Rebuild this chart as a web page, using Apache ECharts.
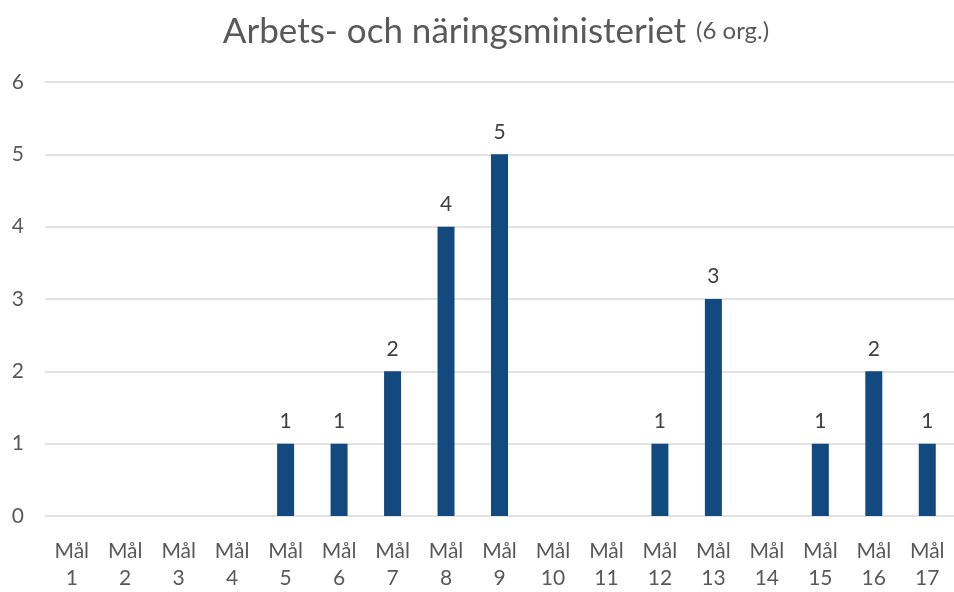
<!DOCTYPE html>
<html>
<head>
<meta charset="utf-8">
<script src="https://cdn.jsdelivr.net/npm/echarts@6/dist/echarts.min.js"></script>
<style>
html, body { margin: 0; padding: 0; background: #fff; }
#chart { width: 954px; height: 592px; }
</style>
</head>
<body>
<div id="chart"></div>
<script>
var categories = ['Mål\n1', 'Mål\n2', 'Mål\n3', 'Mål\n4', 'Mål\n5', 'Mål\n6', 'Mål\n7', 'Mål\n8', 'Mål\n9',
	'Mål\n10', 'Mål\n11', 'Mål\n12', 'Mål\n13', 'Mål\n14', 'Mål\n15', 'Mål\n16', 'Mål\n17'];
var values = [0, 0, 0, 0, 1, 1, 2, 4, 5, 0, 0, 1, 3, 0, 1, 2, 1];
var yTicks = [0, 1, 2, 3, 4, 5, 6];

var chart = echarts.init(document.getElementById('chart'));
var option = {
	textStyle: { fontFamily: 'Lato, "Open Sans", sans-serif' },
	title: {
		text: '{main|Arbets- och näringsministeriet}{gap|}{small|(6 org.)}',
		left: 491,
		top: 9,
		textAlign: 'center',
		textStyle: {
			fontWeight: 'normal',
			rich: {
				main: { fontSize: 35, color: '#595959', fontWeight: 'normal', fontFamily: 'Lato, sans-serif' },
				gap: { width: 10 },
				small: { fontSize: 24, color: '#595959', fontWeight: 'normal', fontFamily: 'Lato, sans-serif' }
			}
		}
	},
	grid: { left: 45, top: 82, width: 911, bottom: 73, containLabel: false },
	xAxis: {
		type: 'category',
		data: categories,
		axisTick: { show: false },
		axisLine: { show: false },
		axisLabel: {
			color: '#595959',
			fontSize: 21,
			lineHeight: 27,
			margin: 22,
			interval: 0
		}
	},
	yAxis: {
		type: 'value',
		min: yTicks[0],
		max: yTicks[yTicks.length - 1],
		interval: 1,
		axisTick: { show: false },
		axisLine: { show: false },
		axisLabel: { color: '#595959', fontSize: 21, margin: 21 },
		splitLine: { lineStyle: { color: '#d9d9d9', width: 1.5 } }
	},
	series: [{
		type: 'bar',
		data: values,
		barWidth: 17,
		itemStyle: { color: '#124a80' },
		label: {
			show: true,
			position: 'top',
			distance: 12,
			color: '#404040',
			fontSize: 21,
			formatter: function (p) { return p.value > 0 ? p.value : ''; }
		}
	}]
};
chart.setOption(option);
</script>
</body>
</html>
